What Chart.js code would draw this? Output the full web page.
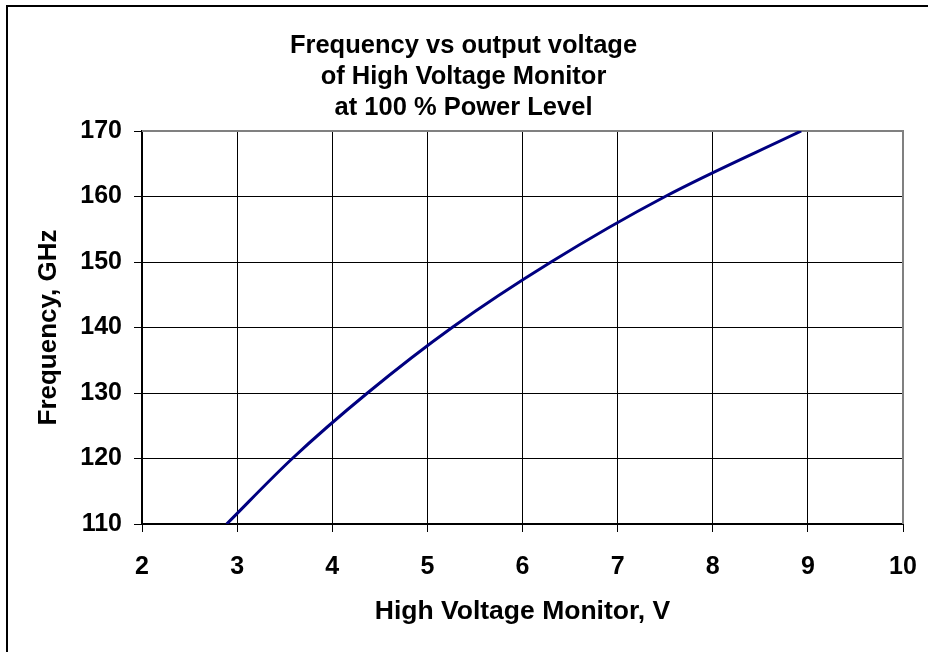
<!DOCTYPE html>
<html>
<head>
<meta charset="utf-8">
<script src="https://cdn.jsdelivr.net/npm/chart.js@4"></script>
<style>
  body { margin: 0; background: #fff; overflow: hidden; }
  #wrap { position: relative; width: 928px; height: 652px; }
  #frame {
    position: absolute; left: 6px; top: 5px; width: 1000px; height: 1000px;
    border-left: 2px solid #000; border-top: 2px solid #000;
  }
  #chart { position: absolute; left: 0; top: 0; }
</style>
</head>
<body>
<div id="wrap">
  <div id="frame"></div>
  <canvas id="chart" width="928" height="652"></canvas>
</div>
<script>
// Frequency vs HV monitor voltage
const voltage = [2.89, 3.58, 4.37, 5.26, 6.30, 7.50, 8.93];
const frequency = [110, 120, 130, 140, 150, 160, 170];

const titleLines = ["Frequency vs output voltage", "of High Voltage Monitor", "at 100 % Power Level"];
const xTitle = "High Voltage Monitor, V";
const yTitle = "Frequency, GHz";

const FONT = "'Liberation Sans', Arial, sans-serif";
const SIZE = 25;
const PAD_LEFT = 24;
const PAD_RIGHT = 25;

// gray frame on top and right of plot area
const plotFrame = {
  id: "plotFrame",
  beforeDatasetsDraw(chart) {
    const { ctx, chartArea: a } = chart;
    ctx.save();
    ctx.strokeStyle = "#808080";
    ctx.lineWidth = 2;
    ctx.beginPath();
    ctx.moveTo(a.left, a.top);
    ctx.lineTo(a.right, a.top);
    ctx.lineTo(a.right, a.bottom);
    ctx.stroke();
    ctx.restore();
  },
};

const points = voltage.map((v, i) => ({ x: v, y: frequency[i] }));

new Chart(document.getElementById("chart"), {
  type: "line",
  data: {
    datasets: [
      {
        data: points,
        borderColor: "#000080",
        borderWidth: 3,
        pointRadius: 0,
        cubicInterpolationMode: "monotone",
        fill: false,
      },
    ],
  },
  options: {
    responsive: false,
    animation: false,
    layout: { padding: { left: PAD_LEFT, right: PAD_RIGHT, top: 0, bottom: 0 } },
    plugins: {
      legend: { display: false },
      tooltip: { enabled: false },
      title: {
        display: true,
        text: titleLines,
        color: "#000",
        font: { family: FONT, size: 25.5, weight: "bold", lineHeight: 31 / 25.5 },
        padding: { top: 30, bottom: 8 },
      },
    },
    scales: {
      x: {
        type: "linear",
        min: 2,
        max: 10,
        afterFit(scale) {
          scale.height = 128;
          scale.paddingLeft = 0;
          scale.paddingRight = 0;
        },
        ticks: {
          stepSize: 1,
          color: "#000",
          padding: 20,
          font: { family: FONT, size: SIZE, weight: "bold" },
        },
        grid: { color: "#000", lineWidth: 1, tickLength: 8 },
        border: { color: "#000", width: 2 },
        title: {
          display: true,
          text: xTitle,
          color: "#000",
          font: { family: FONT, size: 26.5, weight: "bold" },
          padding: { top: 0, bottom: 24 },
        },
      },
      y: {
        min: 110,
        max: 170,
        afterFit(scale) { scale.width = 142 - PAD_LEFT; },
        ticks: {
          stepSize: 10,
          color: "#000",
          padding: 12,
          font: { family: FONT, size: SIZE, weight: "bold" },
        },
        grid: { color: "#000", lineWidth: 1, tickLength: 8 },
        border: { color: "#000", width: 2 },
        title: {
          display: true,
          text: yTitle,
          color: "#000",
          font: { family: FONT, size: 26, weight: "bold" },
          padding: { top: 9, bottom: 0 },
        },
      },
    },
  },
  plugins: [plotFrame],
});
</script>
</body>
</html>
